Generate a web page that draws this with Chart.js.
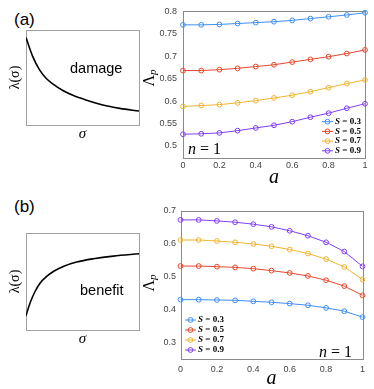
<!DOCTYPE html>
<html>
<head>
<meta charset="utf-8">
<script src="https://cdn.jsdelivr.net/npm/chart.js@4.4.1/dist/chart.umd.min.js"></script>
<style>
  body { margin: 0; background: #fff; }
  #wrap { position: relative; width: 374px; height: 389px; overflow: hidden; background: #fff; }
  canvas { position: absolute; }
  .panel { position: absolute; font-family: "Liberation Sans", Arial, sans-serif; font-size: 17px; color: #000; line-height: 20px; }
  .note { position: absolute; font-family: "Liberation Sans", Arial, sans-serif; font-size: 14.5px; color: #000; line-height: 16px; z-index: 2; }
</style>
</head>
<body>
<div id="wrap">
  <div class="panel" style="left:14px;top:10px">(a)</div>
  <div class="panel" style="left:14px;top:197px">(b)</div>
  <canvas id="cDamage" width="145" height="150" style="left:0;top:0"></canvas>
  <canvas id="cBenefit" width="145" height="160" style="left:0;top:195px"></canvas>
  <canvas id="cTop" width="234" height="192" style="left:140px;top:0"></canvas>
  <canvas id="cBottom" width="234" height="189" style="left:140px;top:200px"></canvas>
  <div class="note" style="left:70px;top:60px">damage</div>
  <div class="note" style="left:80px;top:282px">benefit</div>
</div>
<script>
// schematic curves (normalised box coordinates)
const damageX = [0, 0.06, 0.12, 0.18, 0.24, 0.33, 0.42, 0.54, 0.68, 0.83, 1];
const damageY = [0.92, 0.72, 0.58, 0.49, 0.43, 0.36, 0.31, 0.26, 0.21, 0.175, 0.147];
const benefitX = [0, 0.035, 0.08, 0.124, 0.183, 0.242, 0.33, 0.448, 0.596, 0.773, 1];
const benefitY = [0.148, 0.276, 0.397, 0.483, 0.552, 0.603, 0.655, 0.700, 0.734, 0.762, 0.786];

// a values and S labels
const aValues = [0, 0.1, 0.2, 0.3, 0.4, 0.5, 0.6, 0.7, 0.8, 0.9, 1];
const sLabels = ['0.3', '0.5', '0.7', '0.9'];
const sColors = ['#3f8ef0', '#e5472c', '#f0b430', '#8040f0'];

// (a) damage
const damage03 = [0.770, 0.770, 0.771, 0.773, 0.775, 0.777, 0.780, 0.784, 0.788, 0.792, 0.797];
const damage05 = [0.668, 0.668, 0.670, 0.673, 0.677, 0.681, 0.687, 0.693, 0.699, 0.706, 0.714];
const damage07 = [0.588, 0.590, 0.592, 0.596, 0.601, 0.607, 0.613, 0.621, 0.630, 0.639, 0.647];
const damage09 = [0.526, 0.527, 0.529, 0.534, 0.540, 0.546, 0.554, 0.564, 0.573, 0.584, 0.594];

// (b) benefit
const benefit03 = [0.431, 0.431, 0.430, 0.429, 0.426, 0.423, 0.419, 0.414, 0.406, 0.396, 0.378];
const benefit05 = [0.533, 0.533, 0.531, 0.529, 0.525, 0.519, 0.512, 0.503, 0.490, 0.472, 0.444];
const benefit07 = [0.612, 0.612, 0.609, 0.605, 0.600, 0.593, 0.583, 0.571, 0.554, 0.530, 0.492];
const benefit09 = [0.673, 0.673, 0.670, 0.666, 0.660, 0.652, 0.640, 0.625, 0.605, 0.577, 0.532];

// tick labels
const xTicks = [0, 0.2, 0.4, 0.6, 0.8, 1];
const topYTicks = [0.5, 0.55, 0.6, 0.65, 0.7, 0.75, 0.8];
const bottomYTicks = [0.3, 0.4, 0.5, 0.6, 0.7];

const tickFont = { family: '"Liberation Sans", Arial, sans-serif', size: 9 };

// box, legend, n = 1 and Lambda_p label
const decor = {
  id: 'decor',
  beforeDatasetsDraw(chart, args, o) {
    const ctx = chart.ctx, a = chart.chartArea;
    ctx.save();
    ctx.strokeStyle = o.boxColor || '#8a8a8a';
    ctx.lineWidth = 1;
    const l = Math.round(a.left) + 0.5, t = Math.round(a.top) + 0.5;
    ctx.strokeRect(l, t, Math.round(a.right) - Math.round(a.left), Math.round(a.bottom) - Math.round(a.top));
    ctx.restore();
  },
  afterDatasetsDraw(chart, args, o) {
    const ctx = chart.ctx;
    ctx.save();
    if (o.legend) {
      const L = o.legend;
      chart.data.datasets.forEach((ds, i) => {
        const y = L.y + i * L.dy;
        ctx.strokeStyle = ds.borderColor;
        ctx.lineWidth = 1;
        ctx.beginPath(); ctx.moveTo(L.x, y); ctx.lineTo(L.x + 11, y); ctx.stroke();
        ctx.beginPath(); ctx.arc(L.x + 5.5, y, 2.4, 0, 2 * Math.PI); ctx.stroke();
        ctx.fillStyle = '#000';
        ctx.textBaseline = 'middle';
        ctx.textAlign = 'left';
        ctx.font = 'italic bold 9px "Liberation Serif"';
        ctx.fillText('S', L.x + 13, y);
        const w = ctx.measureText('S').width;
        ctx.font = 'bold 9px "Liberation Serif"';
        ctx.fillText(ds.label.slice(1), L.x + 13 + w, y);
      });
    }
    if (o.nText) {
      ctx.fillStyle = '#000';
      ctx.textBaseline = 'middle';
      ctx.textAlign = 'left';
      ctx.font = 'italic 16px "Liberation Serif"';
      ctx.fillText('n', o.nText.x, o.nText.y);
      const w = ctx.measureText('n').width;
      ctx.font = '16px "Liberation Serif"';
      ctx.fillText(' = 1', o.nText.x + w, o.nText.y);
    }
    if (o.yLabel) {
      ctx.translate(o.yLabel.x, o.yLabel.y);
      ctx.rotate(-Math.PI / 2);
      ctx.fillStyle = '#000';
      ctx.textBaseline = 'middle';
      ctx.textAlign = 'left';
      ctx.font = '16px "Liberation Serif"';
      const w1 = ctx.measureText('Λ').width;
      ctx.font = 'italic 11px "Liberation Serif"';
      const w2 = ctx.measureText('p').width;
      ctx.font = '16px "Liberation Serif"';
      ctx.fillText('Λ', -(w1 + w2) / 2, 0);
      ctx.font = 'italic 11px "Liberation Serif"';
      ctx.fillText('p', -(w1 + w2) / 2 + w1, 3);
    }
    ctx.restore();
  }
};

function sketch(id, xs, ys, padTop, axW, axH, titleBottom) {
  new Chart(document.getElementById(id), {
    type: 'line',
    data: {
      datasets: [{
        data: xs.map((x, i) => ({ x: x, y: ys[i] })),
        borderColor: '#000',
        borderWidth: 1.6,
        pointRadius: 0,
        cubicInterpolationMode: 'monotone'
      }]
    },
    options: {
      responsive: false,
      animation: false,
      layout: { padding: { top: padTop, right: 6, left: 0, bottom: 0 } },
      plugins: { legend: { display: false }, tooltip: { enabled: false }, decor: { boxColor: '#a0a0a0' } },
      scales: {
        x: {
          type: 'linear', min: 0, max: 1,
          ticks: { display: false },
          grid: { display: false, drawTicks: false },
          border: { display: false },
          title: { display: true, text: 'σ', color: '#000',
                   font: { family: '"Liberation Serif"', style: 'italic', size: 15 },
                   padding: { top: 0, bottom: titleBottom } },
          afterFit: s => { s.height = axH; }
        },
        y: {
          min: 0, max: 1,
          ticks: { display: false },
          grid: { display: false, drawTicks: false },
          border: { display: false },
          title: { display: true, text: 'λ(σ)', color: '#000',
                   font: { family: '"Liberation Serif"', size: 14 },
                   padding: { top: 6.5, bottom: 0 } },
          afterFit: s => { s.width = axW; }
        }
      }
    },
    plugins: [decor]
  });
}

function mainChart(id, series, yMin, yMax, yTicks, opt) {
  new Chart(document.getElementById(id), {
    type: 'line',
    data: {
      datasets: series.map((vals, i) => ({
        label: 'S = ' + sLabels[i],
        data: aValues.map((a, j) => ({ x: a, y: vals[j] })),
        borderColor: sColors[i],
        borderWidth: 1,
        pointRadius: 2.4,
        pointBorderWidth: 1,
        pointBorderColor: sColors[i],
        pointBackgroundColor: 'rgba(255,255,255,0)',
        clip: false
      }))
    },
    options: {
      responsive: false,
      animation: false,
      layout: { padding: { top: opt.padTop, right: opt.padRight, left: 0, bottom: 0 } },
      plugins: {
        legend: { display: false },
        tooltip: { enabled: false },
        decor: { legend: opt.legend, nText: opt.nText, yLabel: opt.yLabel }
      },
      scales: {
        x: {
          type: 'linear', min: 0, max: 1,
          afterBuildTicks: s => { s.ticks = xTicks.map(v => ({ value: v })); },
          ticks: { font: tickFont, color: '#444', padding: opt.xPad, maxRotation: 0, autoSkip: false,
                   callback: v => String(v) },
          grid: { display: false, drawTicks: false },
          border: { display: false },
          title: { display: true, text: 'a', color: '#000',
                   font: { family: '"Liberation Serif"', style: 'italic', size: 20, lineHeight: 1 },
                   padding: { top: 0, bottom: opt.titlePad } },
          afterFit: s => { s.height = opt.axH; }
        },
        y: {
          min: yMin, max: yMax,
          afterBuildTicks: s => { s.ticks = yTicks.map(v => ({ value: v })); },
          ticks: { font: tickFont, color: '#444', padding: opt.yPad, autoSkip: false,
                   callback: v => String(+v.toFixed(2)) },
          grid: { display: false, drawTicks: false },
          border: { display: false },
          afterFit: s => { s.width = opt.axW; }
        }
      }
    },
    plugins: [decor]
  });
}

sketch('cDamage', damageX, damageY, 30, 26, 25, 6.5);
sketch('cBenefit', benefitX, benefitY, 38, 26, 25, 6.5);

mainChart('cTop', [damage03, damage05, damage07, damage09], 0.473, 0.8, topYTicks, {
  padTop: 10, padRight: 9, axW: 43, axH: 34, xPad: 2.5, yPad: 6, titlePad: 4,
  legend: { x: 182, y: 121.7, dy: 9.7 },
  nText: { x: 48, y: 150 },
  yLabel: { x: 10, y: 78 }
});

mainChart('cBottom', [benefit03, benefit05, benefit07, benefit09], 0.25, 0.7, bottomYTicks, {
  padTop: 11, padRight: 11.5, axW: 40.5, axH: 29.7, xPad: 5, yPad: 4.5, titlePad: 0,
  legend: { x: 45, y: 120, dy: 10 },
  nText: { x: 179, y: 152.7 },
  yLabel: { x: 10, y: 83 }
});
</script>
</body>
</html>
